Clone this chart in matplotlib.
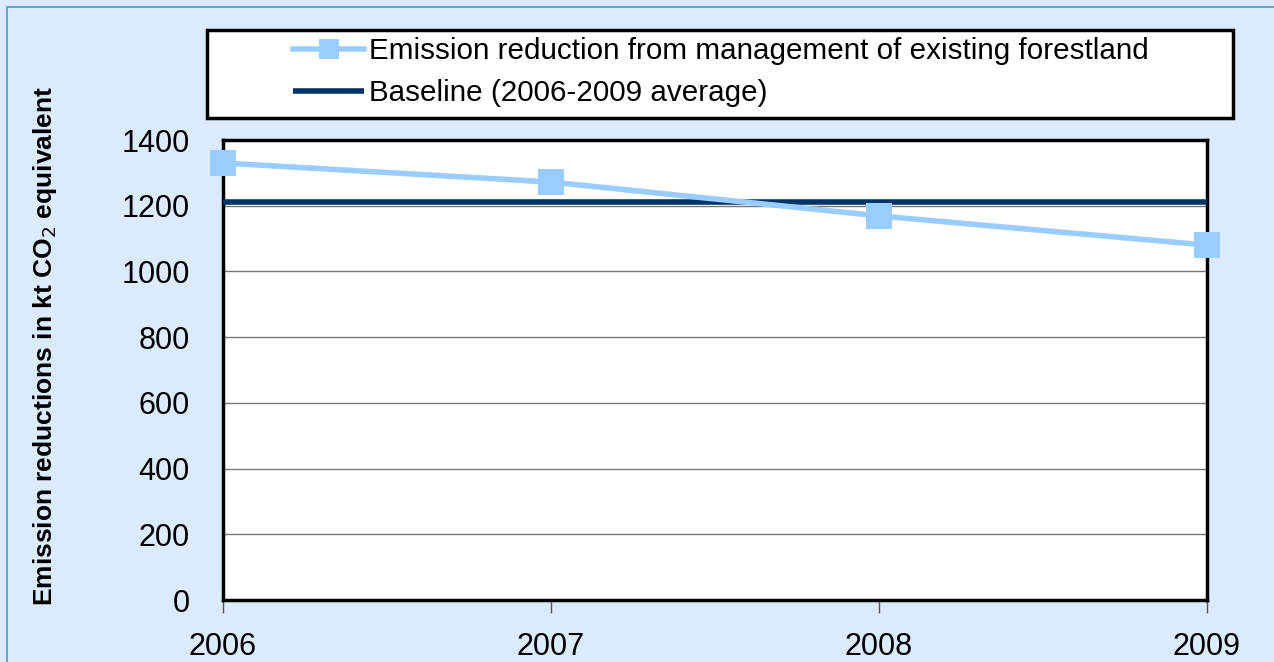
import matplotlib
matplotlib.use("Agg")
import matplotlib.pyplot as plt
from matplotlib.patches import Rectangle

# data
years = [2006, 2007, 2008, 2009]
reduction = [1330, 1272, 1169, 1080]
baseline = sum(reduction) / len(reduction)
yticks = [0, 200, 400, 600, 800, 1000, 1200, 1400]

plt.rcParams['font.family'] = ['Liberation Sans', 'DejaVu Sans']

W, H = 1274, 662
fig = plt.figure(figsize=(W / 100, H / 100), dpi=100)
fig.patch.set_facecolor('#dceafd')

# outer border (left / top)
fig.add_artist(Rectangle((7 / W, -0.1), 1.2, (H - 7) / H + 0.1, transform=fig.transFigure,
                         fill=False, edgecolor='#3d9fd6', linewidth=1.2))

ax = fig.add_axes([223 / W, 1 - 600 / H, (1207 - 223) / W, (600 - 140) / H])
ax.set_facecolor('white')

ax.set_xlim(2006, 2009)
ax.set_ylim(0, 1400)
ax.set_yticks(yticks)
ax.set_xticks(years)
ax.set_xticklabels([str(y) for y in years])

for y in yticks[1:-1]:
    ax.axhline(y, color='#777777', linewidth=1.0, zorder=1)

base_line, = ax.plot([2006, 2009], [baseline, baseline], color='#003366', linewidth=4,
                     zorder=3, clip_on=False, solid_capstyle='butt')
red_line, = ax.plot(years, reduction, color='#99ccff', linewidth=4, marker='s',
                    markersize=19, markeredgewidth=0, zorder=4, clip_on=False)

for s in ax.spines.values():
    s.set_linewidth(2.5)
    s.set_color('black')

ax.tick_params(axis='y', length=0, pad=24, labelsize=22)
ax.tick_params(axis='x', length=9, width=1, color='#555555', pad=14, labelsize=22, direction='out')

fig.text(45 / W, 1 - 346 / H, 'Emission reductions in kt CO$_2$ equivalent',
         rotation=90, ha='center', va='center', fontsize=19, fontweight='bold')

# legend box
fig.add_artist(Rectangle((207 / W, 1 - 118 / H), (1233 - 207) / W, (118 - 30) / H,
                         transform=fig.transFigure, facecolor='white', edgecolor='black',
                         linewidth=2.5, zorder=5))
leg = fig.legend([red_line, base_line],
                 ['Emission reduction from management of existing forestland',
                  'Baseline (2006-2009 average)'],
                 loc='upper left', bbox_to_anchor=(293 / W, 1 - 37 / H),
                 fontsize=21.3, frameon=False, borderpad=0, borderaxespad=0,
                 handlelength=2.4, labelspacing=0.47, handletextpad=0.17)
leg.set_zorder(6)
for h in leg.legend_handles:
    h.set_markersize(14)

fig.savefig('out.png', dpi=100, facecolor=fig.get_facecolor())
